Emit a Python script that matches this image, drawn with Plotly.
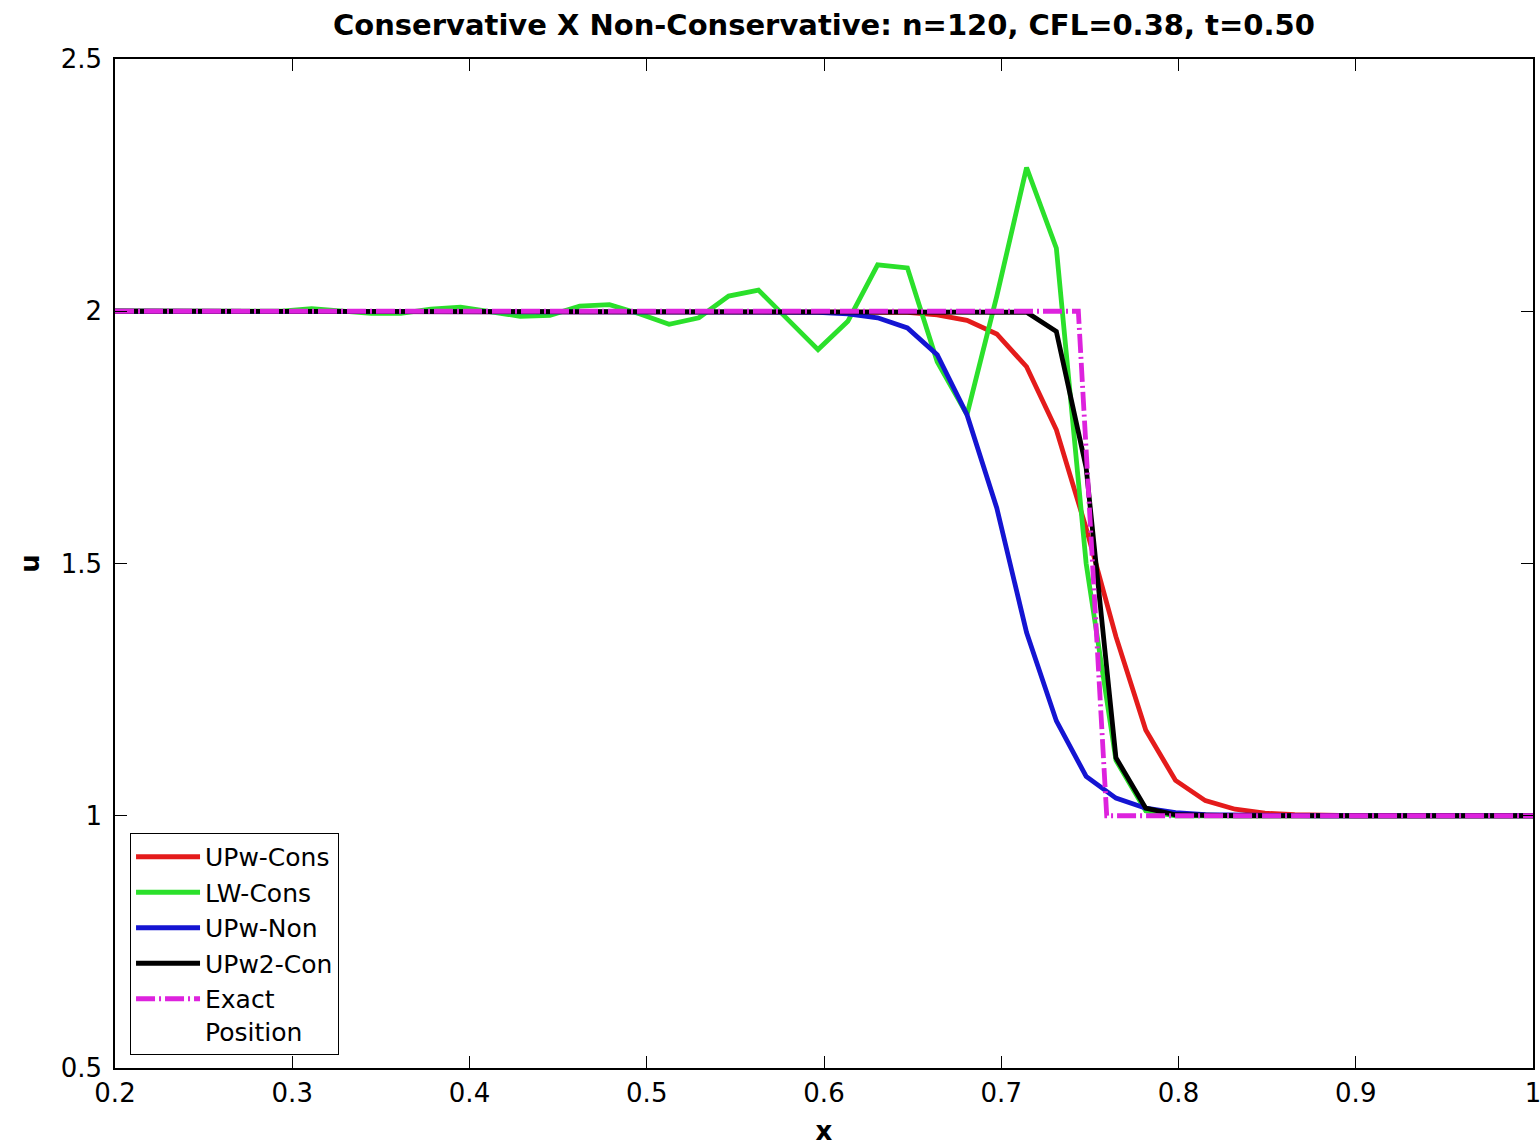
import plotly.graph_objects as go

# grid points (x = -1 + 2i/119, i = 71..119)
x_grid = [0.19328, 0.21008, 0.22689, 0.24370, 0.26050, 0.27731, 0.29412, 0.31092,
          0.32773, 0.34454, 0.36134, 0.37815, 0.39496, 0.41176, 0.42857, 0.44538,
          0.46218, 0.47899, 0.49580, 0.51261, 0.52941, 0.54622, 0.56303, 0.57983,
          0.59664, 0.61345, 0.63025, 0.64706, 0.66387, 0.68067, 0.69748, 0.71429,
          0.73109, 0.74790, 0.76471, 0.78151, 0.79832, 0.81513, 0.83193, 0.84874,
          0.86555, 0.88235, 0.89916, 0.91597, 0.93277, 0.94958, 0.96639, 0.98319, 1.0]

upw_cons = [2.0, 2.0, 2.0, 2.0, 2.0, 2.0, 2.0, 2.0,
            2.0, 2.0, 2.0, 2.0, 2.0, 2.0, 2.0, 2.0,
            2.0, 2.0, 2.0, 2.0, 2.0, 2.0, 2.0, 2.0,
            2.0, 2.0, 2.0, 1.998, 1.993, 1.982, 1.955, 1.89,
            1.765, 1.57, 1.355, 1.17, 1.07, 1.03, 1.013, 1.005,
            1.002, 1.0, 1.0, 1.0, 1.0, 1.0, 1.0, 1.0, 1.0]

lw_cons = [2.0, 2.0, 2.0, 2.0, 2.0, 2.0, 2.0, 2.005,
           2.0, 1.996, 1.996, 2.004, 2.008, 1.999, 1.99, 1.992,
           2.01, 2.013, 1.995, 1.974, 1.987, 2.03, 2.042, 1.983,
           1.924, 1.98, 2.092, 2.086, 1.90, 1.795, 2.03, 2.285,
           2.125, 1.50, 1.11, 1.01, 1.0, 1.0, 1.0, 1.0,
           1.0, 1.0, 1.0, 1.0, 1.0, 1.0, 1.0, 1.0, 1.0]

upw_non = [2.0, 2.0, 2.0, 2.0, 2.0, 2.0, 2.0, 2.0,
           2.0, 2.0, 2.0, 2.0, 2.0, 2.0, 2.0, 2.0,
           2.0, 2.0, 2.0, 2.0, 2.0, 2.0, 2.0, 1.999,
           1.998, 1.995, 1.987, 1.967, 1.914, 1.795, 1.61, 1.363,
           1.188, 1.078, 1.035, 1.015, 1.006, 1.002, 1.001, 1.0,
           1.0, 1.0, 1.0, 1.0, 1.0, 1.0, 1.0, 1.0, 1.0]

upw2_con = [2.0, 2.0, 2.0, 2.0, 2.0, 2.0, 2.0, 2.0,
            2.0, 2.0, 2.0, 2.0, 2.0, 2.0, 2.0, 2.0,
            2.0, 2.0, 2.0, 2.0, 2.0, 2.0, 2.0, 2.0,
            2.0, 2.0, 2.0, 2.0, 2.0, 2.0, 2.0, 1.998,
            1.96, 1.69, 1.115, 1.015, 1.002, 1.0, 1.0, 1.0,
            1.0, 1.0, 1.0, 1.0, 1.0, 1.0, 1.0, 1.0, 1.0]

exact_x = [0.2, 0.7435, 0.7595, 1.0]
exact_u = [2.0, 2.0, 1.0, 1.0]

x_ticks = [0.2, 0.3, 0.4, 0.5, 0.6, 0.7, 0.8, 0.9, 1.0]
x_ticktext = ["0.2", "0.3", "0.4", "0.5", "0.6", "0.7", "0.8", "0.9", "1"]
y_ticks = [0.5, 1.0, 1.5, 2.0, 2.5]
y_ticktext = ["0.5", "1", "1.5", "2", "2.5"]

title_text = "Conservative X Non-Conservative: n=120, CFL=0.38, t=0.50"

FONT = "DejaVu Sans"
W = 4.8

fig = go.Figure()
fig.add_trace(go.Scatter(x=x_grid, y=upw_cons, mode="lines", name="UPw-Cons",
                         line=dict(color="#e41b1b", width=W)))
fig.add_trace(go.Scatter(x=x_grid, y=lw_cons, mode="lines", name="LW-Cons",
                         line=dict(color="#2be02b", width=W)))
fig.add_trace(go.Scatter(x=x_grid, y=upw_non, mode="lines", name="UPw-Non",
                         line=dict(color="#1414d2", width=W)))
fig.add_trace(go.Scatter(x=x_grid, y=upw2_con, mode="lines", name="UPw2-Con",
                         line=dict(color="#000000", width=W)))
fig.add_trace(go.Scatter(x=exact_x, y=exact_u, mode="lines", name="Exact<br>Position",
                         line=dict(color="#dd22dd", width=W, dash="19px,4px,2px,4px")))

fig.update_layout(
    width=1540, height=1146,
    margin=dict(l=115, r=7, t=59, b=78, autoexpand=False),
    paper_bgcolor="white", plot_bgcolor="white",
    font=dict(family=FONT, size=26, color="black"),
    title=dict(text=title_text, x=0.535, xanchor="center", y=1 - 25 / 1146,
               yanchor="middle", yref="container", automargin=False,
               font=dict(family=FONT, size=29, weight="bold", color="black")),
    showlegend=True,
    legend=dict(x=0.0106, y=0.0129, xanchor="left", yanchor="bottom",
                bgcolor="white", bordercolor="black", borderwidth=1,
                font=dict(family=FONT, size=25, color="black"),
                itemwidth=64, valign="top", tracegroupgap=0),
)

fig.update_xaxes(range=[0.2, 1.0], tickvals=x_ticks, ticktext=x_ticktext,
                 automargin=False, ticklabeloverflow="allow",
                 showgrid=False, zeroline=False, showline=True, linecolor="black",
                 linewidth=1.5, mirror="ticks", ticks="inside", ticklen=12,
                 tickcolor="black", tickwidth=1, ticklabelstandoff=1,
                 tickfont=dict(family=FONT, size=26),
                 title=dict(text="x", standoff=15,
                            font=dict(family=FONT, size=26, weight="bold")))
fig.update_yaxes(range=[0.5, 2.5], tickvals=y_ticks, ticktext=y_ticktext,
                 automargin=False, ticklabeloverflow="allow",
                 showgrid=False, zeroline=False, showline=True, linecolor="black",
                 linewidth=1.5, mirror="ticks", ticks="inside", ticklen=12,
                 tickcolor="black", tickwidth=1, ticklabelstandoff=6,
                 tickfont=dict(family=FONT, size=26),
                 title=dict(text="u", standoff=14,
                            font=dict(family=FONT, size=26, weight="bold")))

fig.write_html("out.html")
